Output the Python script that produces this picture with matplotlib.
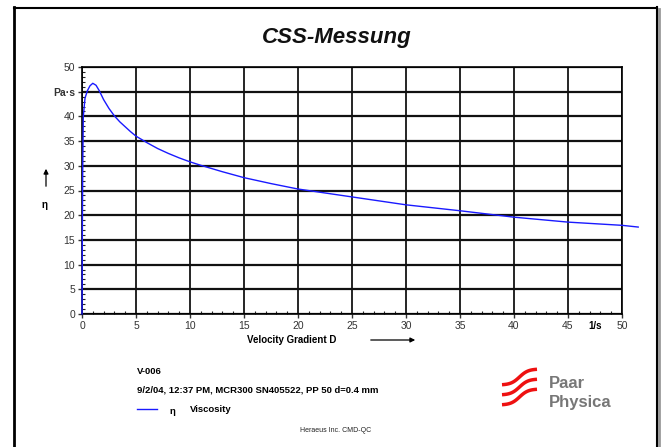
import numpy as np
import matplotlib
matplotlib.use("Agg")
from matplotlib import pyplot as plt
from matplotlib.lines import Line2D
from matplotlib.patches import FancyArrowPatch

plt.rcParams['font.family'] = ['Liberation Sans', 'DejaVu Sans']

# Viskositaetskurve
shear_rate = [0, 0.02, 0.04, 0.07, 0.12, 0.28, 0.5, 0.74, 1.0, 1.3, 1.6, 2.0, 2.5,
              3.0, 3.5, 4.0, 4.5, 5.0, 6, 7, 8, 9, 10, 11, 13, 15, 17.5,
              20, 25, 30, 35, 40, 45, 50, 51.5]
viscosity = [0, 10, 20, 30, 40, 43.7, 45.2, 46.2, 46.7, 46.3, 45.2, 43.4, 41.6,
             40.1, 38.9, 37.9, 36.9, 36.0, 34.7, 33.5, 32.5, 31.6, 30.8, 30.1, 28.8, 27.6, 26.4,
             25.3, 23.7, 22.1, 20.9, 19.6, 18.6, 17.95, 17.6]

x_ticks = [0, 5, 10, 15, 20, 25, 30, 35, 40, 45, 50]
y_ticks = [0, 5, 10, 15, 20, 25, 30, 35, 40, 45, 50]
y_labels = ['0', '5', '10', '15', '20', '25', '30', '35', '40', 'Pa·s', '50']

fig = plt.figure(figsize=(6.63, 4.47), dpi=100)
ax = fig.add_axes([82 / 663, 1 - 314 / 447, 540 / 663, 247 / 447])

ax.plot(shear_rate, viscosity, color='#1a1aff', lw=1.0, clip_on=False, zorder=5)

ax.set_xlim(0, 50)
ax.set_ylim(0, 50)
ax.set_xticks(x_ticks)
ax.set_yticks(y_ticks)
ax.set_yticklabels(y_labels)
ax.set_xticks(np.arange(0, 51, 1), minor=True)
ax.set_yticks(np.arange(0, 51, 1), minor=True)
for lab in ax.get_yticklabels():
    if lab.get_text() == 'Pa·s':
        lab.set_fontweight('bold')
        lab.set_fontsize(7)

ax.tick_params(which='major', direction='out', length=3, width=1, labelsize=7.5, pad=2, colors='#333333')
ax.tick_params(which='minor', direction='in', length=2.5, width=0.8, color='#222222')

# Gitter
for v in x_ticks:
    ax.axvline(v, color='black', lw=1.2, zorder=1)
for v in y_ticks:
    ax.axhline(v, color='#111111', lw=1.6, zorder=1)
for s in ax.spines.values():
    s.set_linewidth(1.2)

# Achsenbeschriftung
ax.text(47.5, -1.5, '1/s', fontsize=7, fontweight='bold', ha='center', va='top')
fig.text(292 / 663, 1 - 340 / 447, 'Velocity Gradient D', fontsize=7, fontweight='bold',
         ha='center', va='center')
fig.add_artist(FancyArrowPatch(
    (368 / 663, 1 - 340 / 447), (418 / 663, 1 - 340 / 447), transform=fig.transFigure,
    arrowstyle='-|>', mutation_scale=7, lw=0.9, color='black'))
fig.text(45 / 663, 1 - 205 / 447, 'η', fontsize=7, fontweight='bold', ha='center', va='center')
fig.add_artist(FancyArrowPatch(
    (46 / 663, 1 - 189 / 447), (46 / 663, 1 - 166 / 447), transform=fig.transFigure,
    arrowstyle='-|>', mutation_scale=7, lw=0.9, color='black'))

# Titel
fig.text(337 / 663, 1 - 37 / 447, 'CSS-Messung', fontsize=16, fontweight='bold',
         fontstyle='italic', ha='center', va='center', color='#111111')

# Infotext unten
fig.text(137 / 663, 1 - 372 / 447, 'V-006', fontsize=6.8, fontweight='bold', va='center')
fig.text(137 / 663, 1 - 390 / 447, '9/2/04, 12:37 PM, MCR300 SN405522, PP 50 d=0.4 mm',
         fontsize=6.8, fontweight='bold', va='center')
fig.add_artist(Line2D([137 / 663, 157 / 663], [1 - 409 / 447, 1 - 409 / 447],
                      color='#1a1aff', lw=1.0))
fig.text(170 / 663, 1 - 411 / 447, 'η', fontsize=6.8, fontweight='bold', va='center')
fig.text(190 / 663, 1 - 410 / 447, 'Viscosity', fontsize=6.8, fontweight='bold', va='center')
fig.text(300 / 663, 1 - 431 / 447, 'Heraeus Inc. CMD-QC', fontsize=5, va='center', color='#222222')

# Logo
lx = np.linspace(0, 1, 60)
ly = 0.5 * (1 + np.tanh((lx - 0.5) * 4.0))
for k in range(3):
    px = 502 + 35 * lx
    py = 385 + k * 10 - 16 * ly
    fig.add_artist(Line2D(px / 663, 1 - py / 447, color='#ee1111', lw=2.5,
                          solid_capstyle='butt'))
fig.text(549 / 663, 1 - 383 / 447, 'Paar', fontsize=12, fontweight='bold', color='#777777', va='center')
fig.text(549 / 663, 1 - 402 / 447, 'Physica', fontsize=12, fontweight='bold', color='#777777', va='center')

# Rahmen
fig.add_artist(Line2D([14 / 663, 14 / 663], [0, 1 - 7 / 447], color='black', lw=2))
fig.add_artist(Line2D([14 / 663, 657 / 663], [1 - 7.5 / 447, 1 - 7.5 / 447], color='black', lw=1.5))
fig.add_artist(Line2D([659 / 663, 659 / 663], [0, 1 - 9 / 447], color='#999999', lw=2))
fig.add_artist(Line2D([657 / 663, 657 / 663], [0, 1 - 7 / 447], color='black', lw=1.5))

fig.savefig('out.png', dpi=100)
